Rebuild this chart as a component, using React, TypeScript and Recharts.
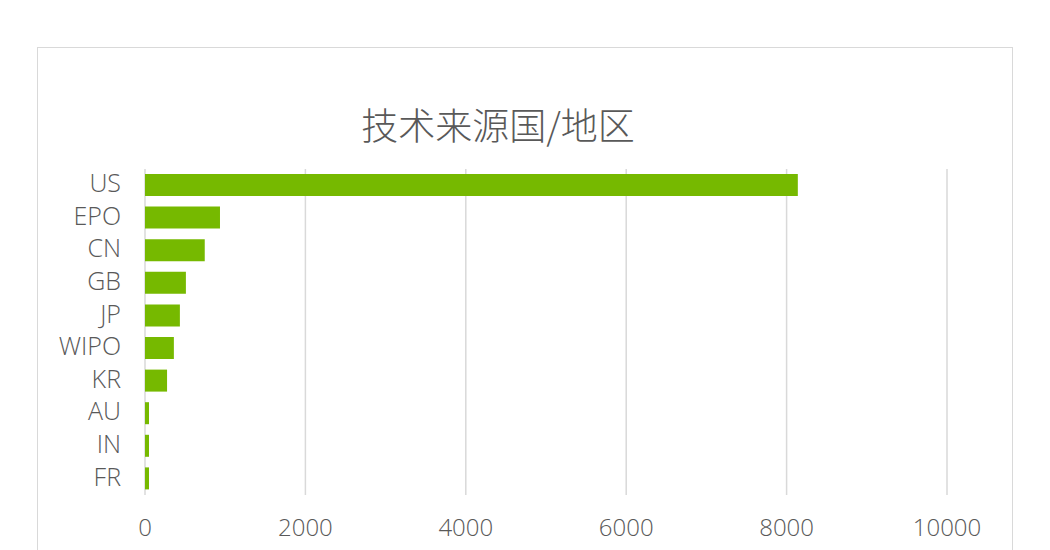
import { Bar, BarChart, CartesianGrid, XAxis, YAxis } from "recharts";

const title = "技术来源国/地区";
const categories = ["US", "EPO", "CN", "GB", "JP", "WIPO", "KR", "AU", "IN", "FR"];
const counts = [8140, 935, 745, 510, 435, 360, 275, 50, 50, 50];
const xTicks = [0, 2000, 4000, 6000, 8000, 10000];

const data = categories.map((c, i) => ({ c, v: counts[i] }));

const font = "'Open Sans', 'Noto Sans CJK SC', sans-serif";
const textColor = "#595959";
const gridColor = "#d9d9d9";

export default function App() {
  return (
    <div style={{ position: "fixed", left: 0, top: 0, width: 1050, height: 550, overflow: "hidden", background: "#fff", fontFamily: font }}>
      <div style={{ position: "absolute", left: 37, top: 47, width: 976, height: 600, border: `1.5px solid ${gridColor}`, boxSizing: "border-box" }} />
      <div style={{ position: "absolute", left: 0, width: 996, top: 100, textAlign: "center", fontSize: 37, fontWeight: 300, color: textColor, fontFamily: "'Noto Sans CJK SC', sans-serif", lineHeight: "48px" }}>
        {title}
      </div>
      <div style={{ position: "absolute", left: 0, top: 0 }}>
        <BarChart
          width={1050}
          height={550}
          data={data}
          layout="vertical"
          margin={{ left: 0, right: 103, top: 169, bottom: 0 }}
          barCategoryGap={10}
        >
          <CartesianGrid vertical horizontal={false} stroke={gridColor} strokeWidth={1.5} />
          <XAxis
            type="number"
            domain={[0, 10000]}
            ticks={xTicks}
            axisLine={false}
            tickLine={false}
            tickSize={0}
            tickMargin={24}
            height={55}
            interval={0}
            tick={{ fill: textColor, fontSize: 24, fontWeight: 300, fontFamily: font }}
          />
          <YAxis
            type="category"
            dataKey="c"
            width={145}
            axisLine={false}
            tickLine={false}
            tickSize={0}
            tickMargin={24}
            interval={0}
            tick={{ fill: textColor, fontSize: 25, fontWeight: 300, fontFamily: font, dy: -2 }}
          />
          <Bar dataKey="v" fill="#76b900" barSize={22} isAnimationActive={false} />
        </BarChart>
      </div>
    </div>
  );
}
